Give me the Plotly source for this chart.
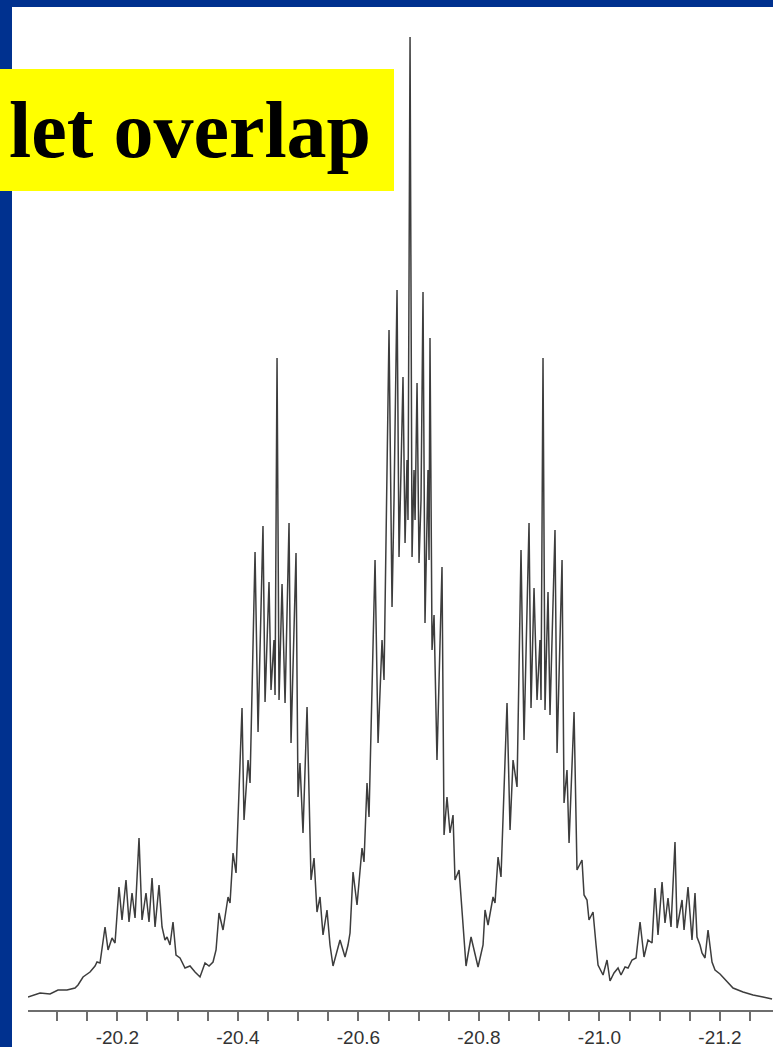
import plotly.graph_objects as go

# ---- data (chemical shift in ppm, relative intensity) ----
ppm_left_wing = [-20.0518, -20.0718, -20.0883, -20.1016, -20.1165, -20.1298, -20.1348, -20.1431, -20.1547, -20.1630, -20.1663, -20.1713]
int_left_wing = [1.3, 1.7, 1.6, 2.0, 2.0, 2.2, 2.5, 3.3, 3.8, 4.4, 4.8, 4.7]

ppm_m1 = [-20.1796, -20.1846, -20.1912, -20.1962, -20.2028, -20.2078, -20.2144, -20.2194, -20.2244, -20.2294, -20.2360, -20.2410, -20.2476, -20.2526, -20.2576, -20.2626, -20.2692, -20.2742, -20.2791, -20.2825, -20.2874, -20.2924, -20.2974]
int_m1 = [8.3, 6.0, 7.2, 6.7, 12.3, 9.0, 13.0, 8.8, 11.7, 9.2, 17.2, 9.0, 11.7, 8.8, 13.2, 8.3, 12.5, 8.3, 7.0, 7.3, 6.5, 8.8, 5.5]

ppm_v1 = [-20.3040, -20.3123, -20.3206, -20.3289, -20.3372, -20.3455, -20.3522, -20.3588, -20.3638]
int_v1 = [5.2, 4.2, 4.4, 3.8, 3.3, 4.7, 4.4, 4.8, 6.0]

ppm_m2 = [-20.3687, -20.3754, -20.3837, -20.3870, -20.3920, -20.3970, -20.4069, -20.4102, -20.4169, -20.4202, -20.4285, -20.4335, -20.4417, -20.4451, -20.4517, -20.4550, -20.4600, -20.4617, -20.4650, -20.4683, -20.4733, -20.4783, -20.4849, -20.4882, -20.4965, -20.4998, -20.5031, -20.5081, -20.5148, -20.5214, -20.5264, -20.5313, -20.5363, -20.5413, -20.5479]
int_m2 = [9.7, 8.0, 11.3, 10.7, 15.7, 13.7, 30.2, 19.0, 25.0, 22.7, 45.8, 27.8, 48.4, 30.8, 42.8, 32.0, 37.0, 31.5, 65.2, 31.0, 42.6, 30.7, 48.7, 26.7, 45.7, 21.3, 24.7, 17.7, 30.3, 13.0, 15.2, 9.8, 11.3, 7.5, 10.0]

ppm_v2 = [-20.5529, -20.5579, -20.5645, -20.5695, -20.5778, -20.5828, -20.5861]
int_v2 = [6.5, 4.4, 6.0, 7.0, 5.3, 6.5, 7.7]

ppm_m3 = [-20.5911, -20.5977, -20.6060, -20.6093, -20.6143, -20.6176, -20.6276, -20.6326, -20.6392, -20.6425, -20.6508, -20.6558, -20.6591, -20.6641, -20.6674, -20.6707, -20.6740, -20.6774, -20.6807, -20.6823, -20.6857, -20.6890, -20.6923, -20.6940, -20.6973, -20.7006, -20.7039, -20.7072, -20.7105, -20.7155, -20.7172, -20.7188, -20.7222, -20.7255, -20.7304, -20.7387, -20.7421, -20.7470, -20.7520, -20.7570, -20.7603, -20.7670, -20.7736]
int_m3 = [13.8, 10.5, 16.2, 14.8, 22.7, 19.3, 45.0, 26.7, 37.0, 33.0, 68.0, 40.3, 51.0, 72.0, 45.3, 54.0, 63.3, 46.7, 55.0, 49.0, 97.3, 45.3, 54.0, 49.0, 62.7, 44.7, 51.0, 71.8, 38.7, 54.0, 45.0, 67.2, 36.0, 39.5, 25.0, 44.3, 17.5, 21.3, 17.7, 19.5, 13.0, 14.0, 9.0]

ppm_v3 = [-20.7786, -20.7869, -20.7935, -20.7985, -20.8068]
int_v3 = [4.4, 7.3, 5.5, 4.3, 6.5]

ppm_m4 = [-20.8101, -20.8151, -20.8234, -20.8267, -20.8317, -20.8366, -20.8466, -20.8516, -20.8566, -20.8632, -20.8698, -20.8748, -20.8831, -20.8864, -20.8914, -20.8964, -20.9013, -20.9030, -20.9063, -20.9096, -20.9146, -20.9179, -20.9262, -20.9296, -20.9379, -20.9412, -20.9461, -20.9495, -20.9578, -20.9627, -20.9710, -20.9744, -20.9793, -20.9826, -20.9893, -20.9943]
int_m4 = [10.0, 8.5, 11.3, 10.7, 15.3, 13.3, 30.7, 18.0, 25.0, 22.3, 46.0, 27.0, 48.7, 30.2, 42.2, 31.0, 37.0, 31.0, 65.2, 30.0, 41.8, 29.5, 48.0, 25.7, 45.0, 20.7, 24.0, 16.7, 29.8, 14.0, 15.0, 11.5, 11.0, 9.0, 9.8, 6.5]

ppm_v4 = [-20.9976, -21.0059, -21.0125, -21.0175, -21.0241, -21.0308, -21.0357, -21.0424, -21.0474, -21.0540, -21.0606]
int_v4 = [4.5, 3.5, 5.0, 2.9, 3.7, 4.2, 3.5, 4.3, 4.2, 5.0, 5.2]

ppm_m5 = [-21.0673, -21.0739, -21.0805, -21.0872, -21.0922, -21.0971, -21.1038, -21.1087, -21.1137, -21.1187, -21.1253, -21.1287, -21.1370, -21.1403, -21.1469, -21.1535, -21.1585, -21.1618, -21.1668, -21.1701, -21.1751, -21.1801]
int_m5 = [8.8, 5.3, 7.0, 6.7, 12.2, 7.5, 12.8, 8.7, 11.2, 8.3, 16.8, 8.2, 11.0, 8.0, 12.3, 7.0, 11.7, 7.3, 6.5, 5.7, 5.2, 8.0]

ppm_right_wing = [-21.1867, -21.1917, -21.2000, -21.2116, -21.2216, -21.2382, -21.2548, -21.2713, -21.2863]
int_right_wing = [4.8, 4.0, 3.6, 2.8, 2.2, 1.8, 1.5, 1.3, 1.1]

tick_values = [-20.2, -20.4, -20.6, -20.8, -21.0, -21.2]
tick_labels = ["-20.2", "-20.4", "-20.6", "-20.8", "-21.0", "-21.2"]
banner_text = "let overlap"

# ---- assemble spectrum ----
ppm = (ppm_left_wing + ppm_m1 + ppm_v1 + ppm_m2 + ppm_v2 + ppm_m3 +
       ppm_v3 + ppm_m4 + ppm_v4 + ppm_m5 + ppm_right_wing)
intensity = (int_left_wing + int_m1 + int_v1 + int_m2 + int_v2 + int_m3 +
             int_v3 + int_m4 + int_v4 + int_m5 + int_right_wing)

W, H = 773, 1047
ML, MR, MT, MB = 28, 0, 7, 37
PW, PH = W - ML - MR, H - MT - MB


def px_x(p):
    return (p - ML) / PW


def px_y(p):
    return (H - MB - p) / PH


fig = go.Figure()
fig.add_trace(go.Scatter(
    x=ppm, y=intensity, mode="lines",
    line=dict(color="#3d3d3d", width=1.5),
    hoverinfo="skip", showlegend=False,
))

blue = "#00318F"
shapes = [
    dict(type="rect", xref="paper", yref="paper", layer="above",
         x0=px_x(0), x1=px_x(12), y0=px_y(H), y1=px_y(0),
         fillcolor=blue, line=dict(width=0)),
    dict(type="rect", xref="paper", yref="paper", layer="above",
         x0=px_x(0), x1=px_x(W), y0=px_y(7), y1=px_y(0),
         fillcolor=blue, line=dict(width=0)),
    dict(type="rect", xref="paper", yref="paper", layer="above",
         x0=px_x(0), x1=px_x(394), y0=px_y(191), y1=px_y(69),
         fillcolor="#FFFF00", line=dict(width=0)),
]

fig.update_layout(
    width=W, height=H,
    margin=dict(l=ML, r=MR, t=MT, b=MB, pad=0),
    paper_bgcolor="white", plot_bgcolor="white",
    template="none",
    shapes=shapes,
    annotations=[dict(
        text=banner_text, xref="paper", yref="paper",
        x=px_x(373), y=px_y(130), xanchor="right", yanchor="middle",
        showarrow=False,
        font=dict(family="Liberation Serif", size=80, color="black", weight="bold"),
    )],
    xaxis=dict(
        range=[-20.0518, -21.2879],
        tickmode="array", tickvals=tick_values, ticktext=tick_labels,
        ticks="outside", ticklen=9, tickwidth=1.5, tickcolor="#6e6e6e",
        minor=dict(dtick=0.05, tick0=-20.2, ticks="outside", ticklen=9,
                   tickwidth=1.5, tickcolor="#6e6e6e", showgrid=False),
        showline=True, linecolor="#6e6e6e", linewidth=2,
        showgrid=False, zeroline=False, automargin=False,
        tickfont=dict(family="Liberation Sans", size=19, color="#333333"),
    ),
    yaxis=dict(
        range=[0, 100.3], visible=False, showgrid=False, zeroline=False,
        automargin=False,
    ),
)

fig.write_html(
    "out.html",
    config={"displayModeBar": False},
    post_script="document.body.style.margin='0';document.body.style.overflow='hidden';",
)
